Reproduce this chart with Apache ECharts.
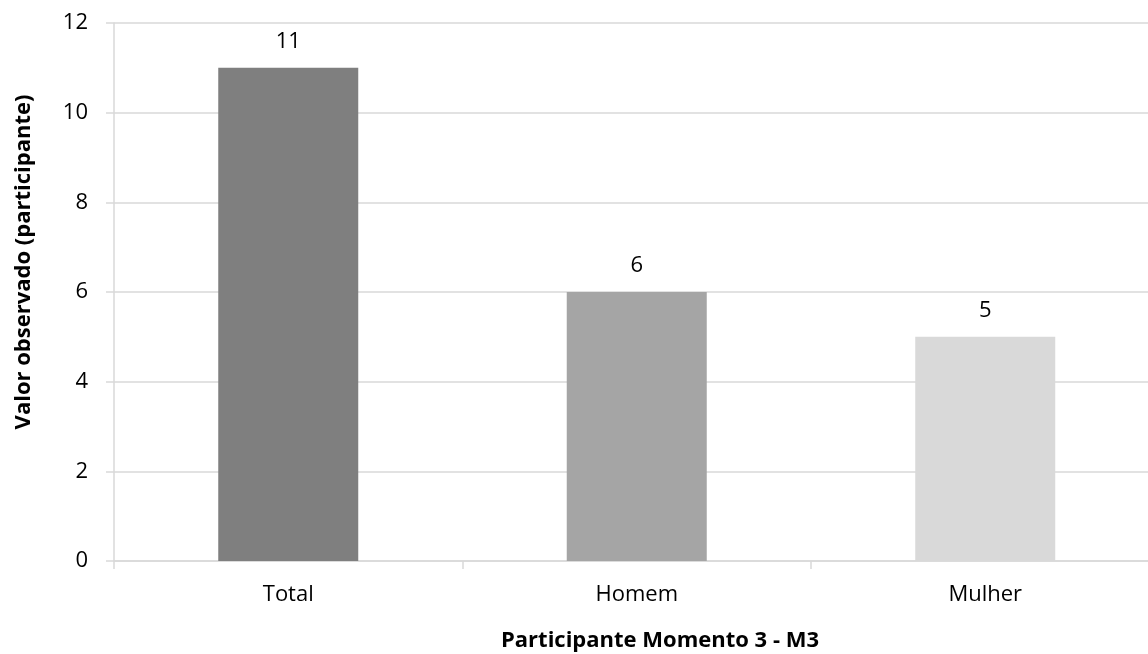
<!DOCTYPE html>
<html>
<head>
<meta charset="utf-8">
<script src="https://cdn.jsdelivr.net/npm/echarts@6/dist/echarts.min.js"></script>
<style>
  html, body { margin: 0; padding: 0; background: #ffffff; overflow: hidden; }
  /* the plot runs a little past the right edge of the window */
  #chart { width: 1160px; height: 654px; }
</style>
</head>
<body>
<div id="chart"></div>
<script>
// Participants observed at moment 3
const categories = ['Total', 'Homem', 'Mulher'];
const values = [11, 6, 5];
const barColors = ['#7f7f7f', '#a5a5a5', '#d9d9d9'];
const yTicks = { min: 0, max: 12, interval: 2 };
const xTitle = 'Participante Momento 3 - M3';
const yTitle = 'Valor observado (participante)';

const FONT = '"Open Sans", "Noto Sans", "Liberation Sans", sans-serif';
const GRID_COLOR = '#d9d9d9';

const chart = echarts.init(document.getElementById('chart'), null, { renderer: 'canvas' });

chart.setOption({
  animation: false,
  backgroundColor: '#ffffff',
  grid: { left: 114, top: 23, bottom: 93, right: 0.5, containLabel: false },
  xAxis: {
    type: 'category',
    data: categories,
    axisLine: { show: true, lineStyle: { color: GRID_COLOR, width: 1.5 } },
    axisTick: { show: true, length: 8, lineStyle: { color: GRID_COLOR, width: 1.5 } },
    axisLabel: { fontFamily: FONT, fontSize: 22, color: '#000000', margin: 23 },
    splitLine: { show: false }
  },
  yAxis: {
    type: 'value',
    min: yTicks.min,
    max: yTicks.max,
    interval: yTicks.interval,
    axisLine: { show: true, lineStyle: { color: GRID_COLOR, width: 1.5 } },
    axisTick: { show: true, length: 8, lineStyle: { color: GRID_COLOR, width: 1.5 } },
    axisLabel: { fontFamily: FONT, fontSize: 22, color: '#000000', margin: 26 },
    splitLine: { show: true, lineStyle: { color: GRID_COLOR, width: 1.5 } }
  },
  // axis titles
  graphic: [
    {
      type: 'text',
      x: 660,
      y: 641,
      style: {
        text: xTitle,
        font: 'bold 22px ' + FONT,
        fill: '#000000',
        textAlign: 'center',
        textVerticalAlign: 'middle',
        align: 'center',
        verticalAlign: 'middle'
      }
    },
    {
      type: 'text',
      x: 24,
      y: 262,
      rotation: Math.PI / 2,
      style: {
        text: yTitle,
        font: 'bold 22px ' + FONT,
        fill: '#000000',
        textAlign: 'center',
        textVerticalAlign: 'middle',
        align: 'center',
        verticalAlign: 'middle'
      }
    }
  ],
  series: [{
    type: 'bar',
    barWidth: 140,
    data: values.map((v, i) => ({ value: v, itemStyle: { color: barColors[i] } })),
    label: {
      show: true,
      position: 'top',
      distance: 15,
      fontFamily: FONT,
      fontSize: 22,
      color: '#000000'
    }
  }]
});
</script>
</body>
</html>
